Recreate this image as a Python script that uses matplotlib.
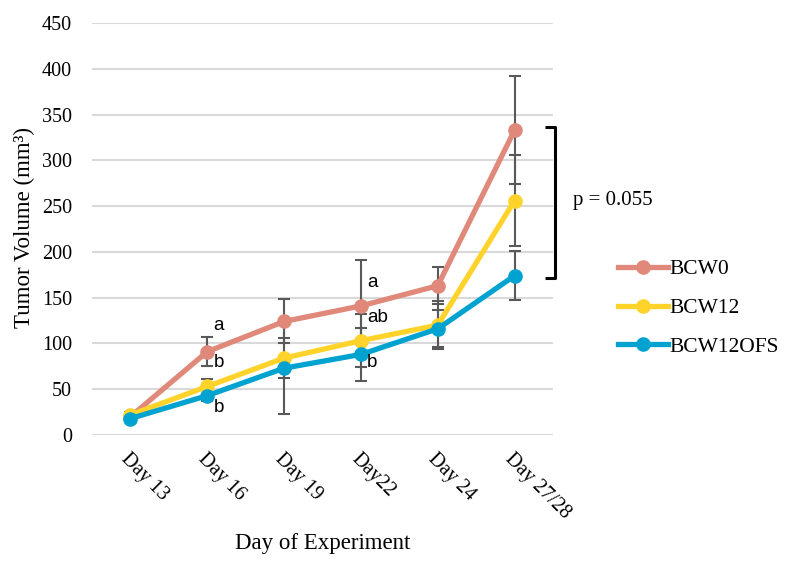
import matplotlib
matplotlib.use("Agg")
import matplotlib.pyplot as plt
import numpy as np

days = ["Day 13", "Day 16", "Day 19", "Day22", "Day 24", "Day 27/28"]
series_names = ["BCW0", "BCW12", "BCW12OFS"]
bcw0 = [20, 91, 124, 141, 163, 333]
bcw12 = [22, 53, 84, 103, 120, 256]
bcw12ofs = [18, 43, 73, 88, 116, 174]
err_bcw0 = [3, 15.5, 24, 50, 20, 59]
err_bcw12 = [3, 8, 22, 29, 26, 50]
err_bcw12ofs = [3, 6, 50, 29, 20, 27]
colors = ["#E0887A", "#FFD32A", "#00A3D0"]

# significance letters: (day index, value, text)
letters_x = [1, 1, 1, 3, 3, 3]
letters_y = [120, 79, 30, 167, 128, 79]
letters_t = ["a", "b", "b", "a", "ab", "b"]
bracket_top, bracket_bottom = 336, 171
p_text = "p = 0.055"

plt.rcParams['font.family'] = ['Liberation Serif', 'DejaVu Serif']

fig = plt.figure(figsize=(7.88, 5.62), dpi=100)
ax = fig.add_axes([92/788, 1-435/562, (553-92)/788, (435-23)/562])

x = np.arange(len(days))
for vals, errs in zip([bcw0, bcw12, bcw12ofs], [err_bcw0, err_bcw12, err_bcw12ofs]):
    ax.errorbar(x, vals, yerr=errs, fmt='none', ecolor='#595959', elinewidth=1.5, capsize=4, capthick=1.5, zorder=2)
for vals, c, name in zip([bcw0, bcw12, bcw12ofs], colors, series_names):
    ax.plot(x, vals, color=c, lw=3.8, marker='o', ms=9.5, label=name, zorder=3)

for lx, ly, lt in zip(letters_x, letters_y, letters_t):
    ax.text(lx + 0.08, ly, lt, family=['Liberation Sans'], fontsize=13.5, ha='left', va='center', zorder=4)

ax.set_xlim(-0.5, 5.5)
ax.set_ylim(0, 450)
ax.set_yticks(np.arange(0, 451, 50))
ax.set_xticks(x)
ax.set_xticklabels(days, rotation=-45, ha='left', va='top', rotation_mode='anchor', fontsize=14.5)
ax.tick_params(axis='y', labelsize=14.5, length=0, pad=14.5)
ax.tick_params(axis='x', length=0, pad=10.5)
ax.grid(axis='y', color='#D9D9D9', lw=1.5)
ax.set_axisbelow(True)
for s in ax.spines.values():
    s.set_visible(False)

ax.set_ylabel("Tumor Volume (mm³)", fontsize=16.5)
ax.set_xlabel("Day of Experiment", fontsize=16.5)
ax.xaxis.set_label_coords(0.5, (435-543)/412)
ax.xaxis.label.set_va('center')
ax.yaxis.set_label_coords((24-92)/461, (435-227)/412)
ax.yaxis.label.set_va('center')

# bracket
bx = 5.53
ax.plot([bx - 0.13, bx, bx, bx - 0.13], [bracket_top, bracket_top, bracket_bottom, bracket_bottom],
        color='black', lw=2.2, clip_on=False, solid_capstyle='butt')
fig.text(573/788, 1-200/562, p_text, fontsize=15, ha='left', va='center')

leg = ax.legend(loc='center left', bbox_to_anchor=(618/788, 1-308/562), bbox_transform=fig.transFigure,
                frameon=False, fontsize=15.5, handlelength=2.3, labelspacing=0.86, handletextpad=0.1,
                borderpad=0, borderaxespad=0)

fig.savefig("out.png", dpi=100)
